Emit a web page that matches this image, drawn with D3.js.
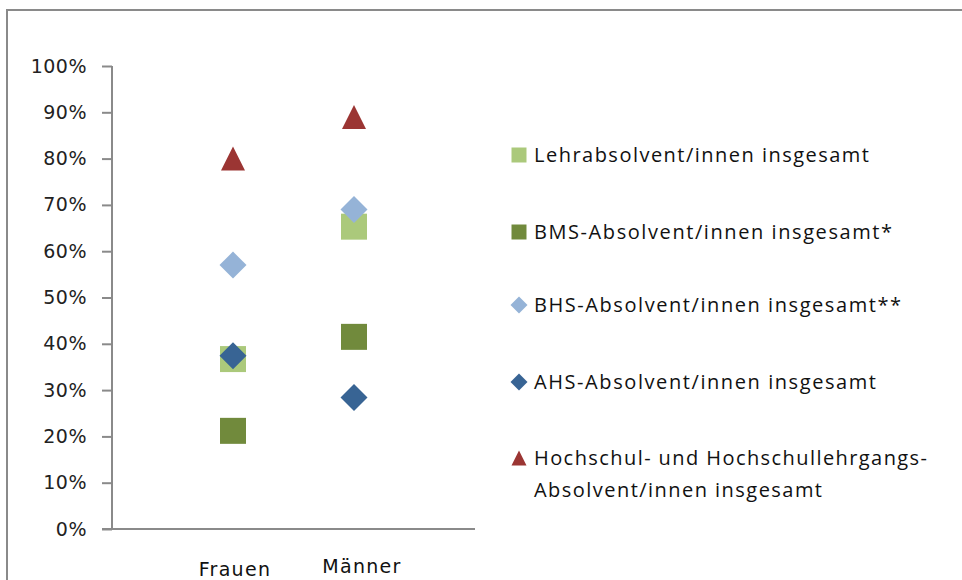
<!DOCTYPE html>
<html lang="de">
<head>
    <meta charset="UTF-8">
    <title>Absolvent/innen</title>
    <style>
        body { margin: 0; background: #fff; }
        svg { display: block; }
        .tick text { font-family: "DejaVu Sans", sans-serif; font-size: 19px; fill: #222; letter-spacing: 0.5px; }
        .cat { font-family: "DejaVu Sans", sans-serif; font-size: 19px; fill: #111; letter-spacing: 1.3px; }
        .leg { font-family: "Open Sans", sans-serif; font-size: 20px; fill: #111; }
    </style>
    <script src="https://d3js.org/d3.v7.min.js"></script>
</head>
<body>
    <svg width="962" height="580"></svg>
    <script>
        const categories = ["Frauen", "Männer"];
        const seriesNames = [
            "Lehrabsolvent/innen insgesamt",
            "BMS-Absolvent/innen insgesamt*",
            "BHS-Absolvent/innen insgesamt**",
            "AHS-Absolvent/innen insgesamt",
            "Hochschul- und Hochschullehrgangs-|Absolvent/innen insgesamt"
        ];
        const lehrValues = [0.367, 0.653];
        const bmsValues = [0.212, 0.415];
        const bhsValues = [0.570, 0.690];
        const ahsValues = [0.374, 0.284];
        const hochValues = [0.80, 0.89];
        const yTicks = [0, 0.1, 0.2, 0.3, 0.4, 0.5, 0.6, 0.7, 0.8, 0.9, 1];

        // custom marker shapes (size = width^2)
        const diamond = {
            draw(ctx, size) {
                const r = Math.sqrt(size) / 2;
                ctx.moveTo(0, -r); ctx.lineTo(r, 0); ctx.lineTo(0, r); ctx.lineTo(-r, 0); ctx.closePath();
            }
        };
        const square = {
            draw(ctx, size) {
                const r = Math.sqrt(size) / 2;
                ctx.rect(-r, -r, 2 * r, 2 * r);
            }
        };
        const triangle = {
            draw(ctx, size) {
                const r = Math.sqrt(size) / 2;
                ctx.moveTo(0, -r); ctx.lineTo(r, r); ctx.lineTo(-r, r); ctx.closePath();
            }
        };

        const series = [
            { name: seriesNames[0], values: lehrValues, color: "#abc97b", shape: square, size: 26 },
            { name: seriesNames[1], values: bmsValues, color: "#718a3c", shape: square, size: 26 },
            { name: seriesNames[2], values: bhsValues, color: "#95b3d7", shape: diamond, size: 27 },
            { name: seriesNames[3], values: ahsValues, color: "#386494", shape: diamond, size: 27 },
            { name: seriesNames[4], values: hochValues, color: "#9b3533", shape: triangle, size: 24 }
        ];

        const svg = d3.select("svg");

        // outer frame (top + left edges visible)
        svg.append("rect")
            .attr("x", 7).attr("y", 10)
            .attr("width", 1100).attr("height", 1000)
            .attr("fill", "none")
            .attr("stroke", "#8a8a8a")
            .attr("stroke-width", 2);

        const plotLeft = 112, plotRight = 475, plotTop = 66, plotBottom = 529;

        const x = d3.scalePoint().domain(categories).range([plotLeft, plotRight]).padding(1);
        const y = d3.scaleLinear().domain([0, 1]).range([plotBottom, plotTop]);

        const yAxis = svg.append("g")
            .attr("transform", `translate(${plotLeft},0)`)
            .call(d3.axisLeft(y).tickValues(yTicks).tickFormat(d3.format(".0%")).tickSize(10).tickPadding(15));
        yAxis.selectAll("line, path").attr("stroke", "#8a8a8a").attr("stroke-width", 2);
        yAxis.select(".domain").attr("d", `M0,${plotTop}V${plotBottom}`);

        svg.append("line")
            .attr("x1", plotLeft - 10).attr("x2", plotRight)
            .attr("y1", plotBottom).attr("y2", plotBottom)
            .attr("stroke", "#8a8a8a")
            .attr("stroke-width", 2);

        svg.append("g").selectAll("text")
            .data(categories)
            .enter().append("text")
            .attr("class", "cat")
            .attr("x", (d, i) => x(d) + (i === 1 ? 8 : 2))
            .attr("y", (d, i) => i === 1 ? 573 : 576)
            .attr("text-anchor", "middle")
            .text(d => d);

        // markers
        series.forEach(s => {
            svg.append("g").selectAll("path")
                .data(s.values)
                .enter().append("path")
                .attr("transform", (d, i) => `translate(${x(categories[i])},${y(d)})`)
                .attr("d", d3.symbol().type(s.shape).size(s.size * s.size))
                .attr("fill", s.color);
        });

        // legend
        const legendY = [155, 232, 305, 382, 458];
        const legendW = [[335], [358], [367], [342], [393, 288]];
        const legend = svg.append("g");
        series.forEach((s, i) => {
            const g = legend.append("g").attr("transform", `translate(519,${legendY[i]})`);
            g.append("path")
                .attr("d", d3.symbol().type(s.shape).size(s.shape === diamond ? 289 : 225))
                .attr("fill", s.color);
            const lines = s.name.split("|");
            lines.forEach((t, j) => {
                g.append("text")
                    .attr("class", "leg")
                    .attr("x", 15)
                    .attr("y", j * 32)
                    .attr("dy", "0.36em")
                    .attr("textLength", legendW[i][j])
                    .attr("lengthAdjust", "spacing")
                    .text(t);
            });
        });
    </script>
</body>
</html>
